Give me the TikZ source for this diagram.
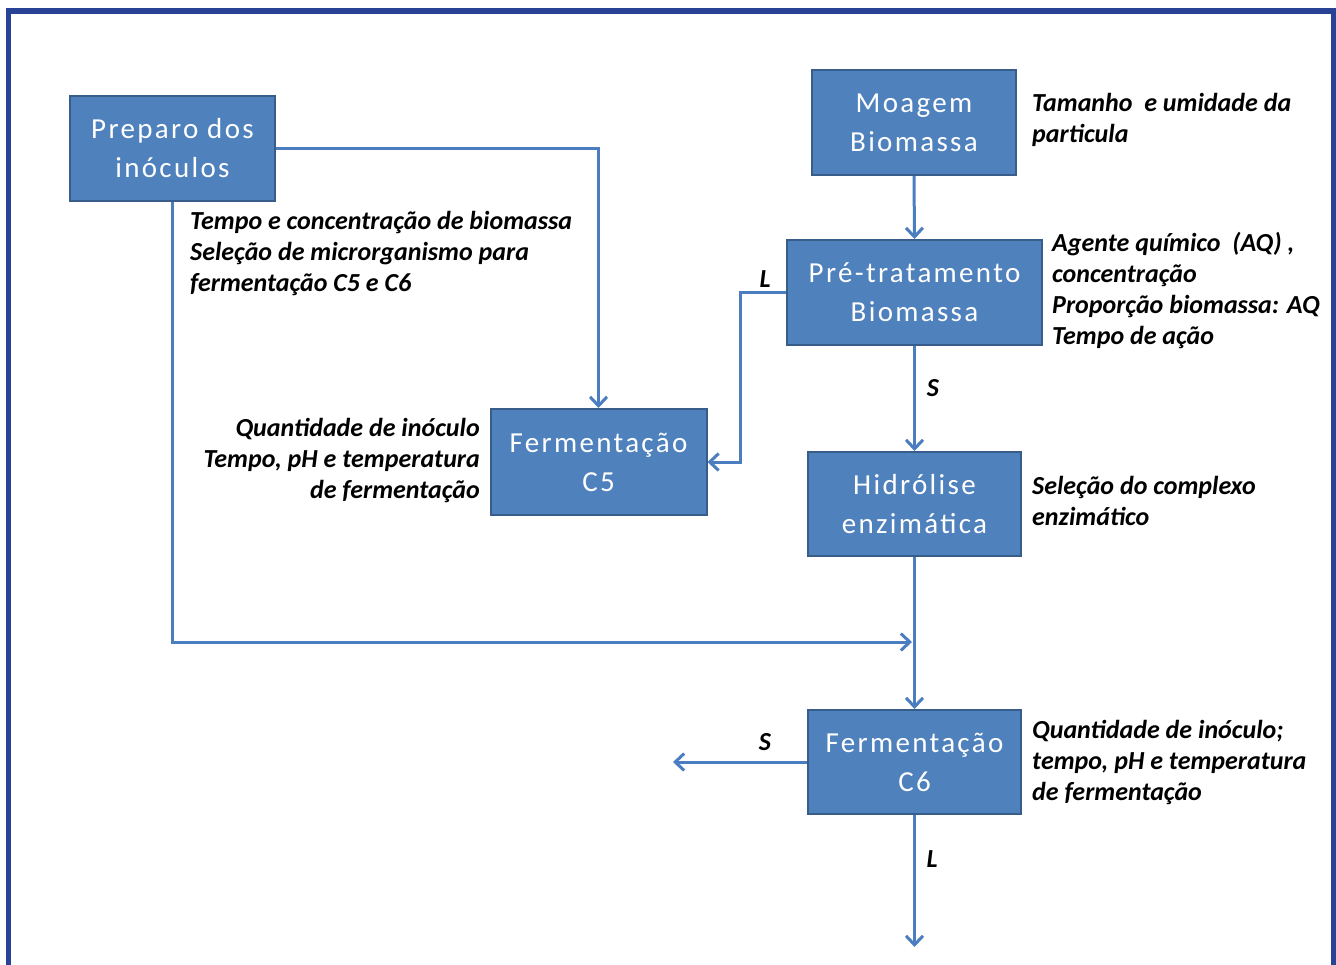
\documentclass[tikz,border=0pt]{standalone}
\usepackage{fontspec}
\setmainfont{Carlito}
\newfontfamily\boxfont[LetterSpace=8]{Carlito}
\usetikzlibrary{arrows.meta}
\definecolor{boxfill}{RGB}{79,129,189}
\definecolor{boxline}{RGB}{56,93,138}
\definecolor{connblue}{RGB}{74,126,192}
\definecolor{frameblue}{RGB}{40,66,150}
\begin{document}
\begin{tikzpicture}[x=1pt,y=-1pt,
 box/.style={draw=boxline, line width=2pt, fill=boxfill, text=white, align=center,
   font=\boxfont\fontsize{29}{39}\selectfont, inner sep=0pt},
 note/.style={font=\fontsize{26}{31}\selectfont\bfseries\itshape, inner sep=0pt},
 conn/.style={draw=connblue, line width=3pt},
 arr/.style={conn, -{Straight Barb[length=9pt,width=17pt]}},
 lab/.style={font=\fontsize{26}{28}\selectfont\bfseries\itshape, inner sep=0pt}]
\useasboundingbox (0,0) rectangle (1336,964);
\fill[white] (0,0) rectangle (1336,964);
\draw[draw=frameblue, line width=5.5pt] (8.5,1010) |- (1333.5,11) -- (1333.5,1010);

\node[box, minimum width=205pt, minimum height=105pt] (prep) at (172.5,148.5) {Preparo dos\\inóculos};
\node[box, minimum width=204pt, minimum height=105pt] (moag) at (914,122.5) {Moagem\\Biomassa};
\node[box, minimum width=255pt, minimum height=105pt] (pre) at (914.5,292.5) {Pré-tratamento\\Biomassa};
\node[box, minimum width=216pt, minimum height=106pt] (c5) at (598.5,462) {Fermentação\\C5};
\node[box, minimum width=213pt, minimum height=104pt] (hid) at (914.5,504) {Hidrólise\\enzimática};
\node[box, minimum width=213pt, minimum height=104pt] (c6) at (914.5,762) {Fermentação\\C6};

\coordinate (join) at (912,642);
\coordinate (sout) at (673,762);
\coordinate (lout) at (914.5,947);

\draw[arr] (prep.east) -| (c5.north);
\draw[arr] (prep.south) |- (join);
\draw[arr] (moag.south) -- (pre.north);
\draw[arr] (pre.west) -- ++(-46,0) |- (c5.east);
\draw[arr] (pre.south) -- (hid.north);
\draw[arr] (hid.south) -- (c6.north);
\draw[arr] (c6.west) -- (sout);
\draw[arr] (c6.south) -- (lout);

\node[lab] (l1) at (765,279) {L};
\node[lab] (s1) at (933,388) {S};
\node[lab] (s2) at (765,742) {S};
\node[lab] (l2) at (932,859) {L};

\node[note, anchor=north west, align=left] (n1) at (190,211) {Tempo e concentração de biomassa\\Seleção de microrganismo para\\fermentação C5 e C6};
\node[note, anchor=north west, align=left] (n2) at (1032,93) {Tamanho\ \ e umidade da\\particula};
\node[note, anchor=north west, align=left] (n3) at (1052,232) {Agente químico\ \ (AQ) ,\\concentração\\Proporção biomassa: AQ\\Tempo de ação};
\node[note, anchor=north east, align=right] (n4) at (480,418) {Quantidade de inóculo\\Tempo, pH e temperatura\\de fermentação};
\node[note, anchor=north west, align=left] (n5) at (1032,476) {Seleção do complexo\\enzimático};
\node[note, anchor=north west, align=left] (n6) at (1032,720) {Quantidade de inóculo;\\tempo, pH e temperatura\\de fermentação};
\end{tikzpicture}
\end{document}
